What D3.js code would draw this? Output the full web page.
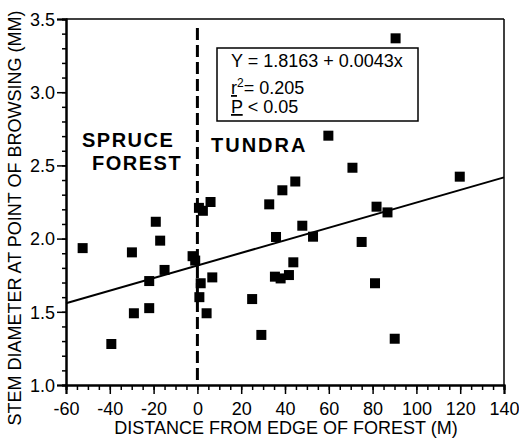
<html>
<head>
    <meta charset="utf-8">
    <script src="https://d3js.org/d3.v7.min.js"></script>
    <style>
        body { margin: 0; background: #fff; }
        text { font-family: "Liberation Sans", Arial, sans-serif; fill: #000; }
    </style>
</head>
<body>

<script>
// distance from forest edge (m) and stem diameter (mm)
var distance = [-52.4, -29.9, -19, -17, -15, -22, -29, -22, -39.3, -2.2, -1,
                2.5, 6, 0.7, 1.5, 6.8, 0.9, 4.2, 25, 29.2, 32.8, 38.8, 44.7, 47.9,
                52.8, 35.9, 43.8, 35.4, 38, 41.8, 90.5, 59.8, 70.8, 119.8, 81.8,
                86.8, 75, 81.1, 90.1];
var diameter = [1.935, 1.906, 2.115, 1.986, 1.786, 1.71, 1.49, 1.525, 1.28, 1.88, 1.85,
                2.19, 2.25, 2.21, 1.695, 1.735, 1.60, 1.49, 1.587, 1.342, 2.234, 2.33, 2.39, 2.088,
                2.013, 2.011, 1.838, 1.74, 1.728, 1.751, 3.368, 2.703, 2.484, 2.423, 2.218,
                2.179, 1.977, 1.695, 1.316];
var xTicks = [-60, -40, -20, 0, 20, 40, 60, 80, 100, 120, 140];
var yTicks = [1.0, 1.5, 2.0, 2.5, 3.0, 3.5];
var intercept = 1.8163;
var slope = 0.0043;
var statLines = ["Y = 1.8163 + 0.0043x", "r", "P"];

var w = 519;
var h = 439;
var mLeft = 66, mRight = 504, mTop = 19, mBottom = 385;

var xScale = d3.scaleLinear().domain([-60, 140]).range([mLeft, mRight]);
var yScale = d3.scaleLinear().domain([1.0, 3.5]).range([mBottom, mTop]);

var svg = d3.select('body').append('svg').attr('width', w).attr('height', h);

// frame top / right
svg.append("line").attr("x1", mLeft).attr("x2", mRight).attr("y1", mTop).attr("y2", mTop)
    .attr("stroke", "#000").attr("stroke-width", 1.5);
svg.append("line").attr("x1", mRight).attr("x2", mRight).attr("y1", mTop).attr("y2", mBottom)
    .attr("stroke", "#000").attr("stroke-width", 1.5);

// minor ticks
var xMinor = d3.range(-60, 141, 5);
var yMinor = d3.range(10, 36).map(function(d){ return d / 10; });
var xAxisMinor = d3.axisBottom(xScale).tickValues(xMinor).tickSize(5).tickFormat("");
var yAxisMinor = d3.axisLeft(yScale).tickValues(yMinor).tickSize(4).tickFormat("");
svg.append("g").attr("transform", "translate(0," + mBottom + ")").call(xAxisMinor);
svg.append("g").attr("transform", "translate(" + mLeft + ",0)").call(yAxisMinor);

// major ticks and labels
var xAxis = d3.axisBottom(xScale).tickValues(xTicks).tickSize(9).tickPadding(5).tickFormat(function(d){ return String(d); });
var yAxis = d3.axisLeft(yScale).tickValues(yTicks).tickSize(9).tickPadding(2).tickFormat(d3.format(".1f"));
var XaxisAppend = svg.append("g").attr("transform", "translate(0," + mBottom + ")").call(xAxis);
var YaxisAppend = svg.append("g").attr("transform", "translate(" + mLeft + ",0)").call(yAxis);

svg.selectAll(".domain").attr("stroke", "#000").attr("stroke-width", 2);
svg.selectAll(".tick line").attr("stroke", "#000").attr("stroke-width", 1.5);
svg.selectAll(".tick text").style("font-size", "18px").attr("fill", "#000");
XaxisAppend.selectAll(".tick text").attr("dy", "0.9em");
YaxisAppend.selectAll(".tick text").attr("dy", "0.35em");

// forest edge
svg.append("line").attr("x1", xScale(0)).attr("x2", xScale(0))
    .attr("y1", 28).attr("y2", mBottom)
    .attr("stroke", "#000").attr("stroke-width", 3).attr("stroke-dasharray", "12,5");

// regression line
var lineFit = d3.line().x(function(d){ return xScale(d); }).y(function(d){ return yScale(intercept + slope * d); });
svg.append("path").attr("d", lineFit([-60, 140])).attr("stroke", "#000").attr("stroke-width", 2).attr("fill", "none");

// points
svg.append("g").selectAll("rect").data(distance).enter().append("rect")
    .attr("x", function(d){ return xScale(d) - 5; })
    .attr("y", function(d, i){ return yScale(diameter[i]) - 5; })
    .attr("width", 10).attr("height", 10).attr("fill", "#000");

// stats box
svg.append("rect").attr("x", 217).attr("y", 48).attr("width", 201).attr("height", 73)
    .attr("fill", "#fff").attr("stroke", "#000").attr("stroke-width", 1.5);
svg.append("text").attr("x", 231).attr("y", 67).style("font-size", "18px").text(statLines[0]);
var t2 = svg.append("text").attr("x", 231).attr("y", 94).style("font-size", "18px");
t2.append("tspan").style("text-decoration", "underline").text(statLines[1]);
t2.append("tspan").attr("dy", -7).style("font-size", "12px").text("2");
t2.append("tspan").attr("dy", 7).text("= 0.205");
var t3 = svg.append("text").attr("x", 231).attr("y", 113).style("font-size", "18px");
t3.append("tspan").style("text-decoration", "underline").text(statLines[2]);
t3.append("tspan").text(" < 0.05");

// region labels
svg.append("text").attr("x", 82).attr("y", 147).style("font-size", "20px").style("font-weight", "bold")
    .style("letter-spacing", "1.5px").text("SPRUCE");
svg.append("text").attr("x", 92).attr("y", 170).style("font-size", "20px").style("font-weight", "bold")
    .style("letter-spacing", "1.5px").text("FOREST");
svg.append("text").attr("x", 211).attr("y", 152).style("font-size", "20px").style("font-weight", "bold")
    .style("letter-spacing", "2px").text("TUNDRA");

// axis titles
svg.append("text").attr("x", 286).attr("y", 434).attr("text-anchor", "middle").style("font-size", "18px")
    .text("DISTANCE FROM EDGE OF FOREST (M)");
svg.append("text").attr("transform", "translate(21,218) rotate(-90)").attr("text-anchor", "middle")
    .style("font-size", "18px").text("STEM DIAMETER AT POINT OF BROWSING (MM)");
</script>

</body>
</html>
